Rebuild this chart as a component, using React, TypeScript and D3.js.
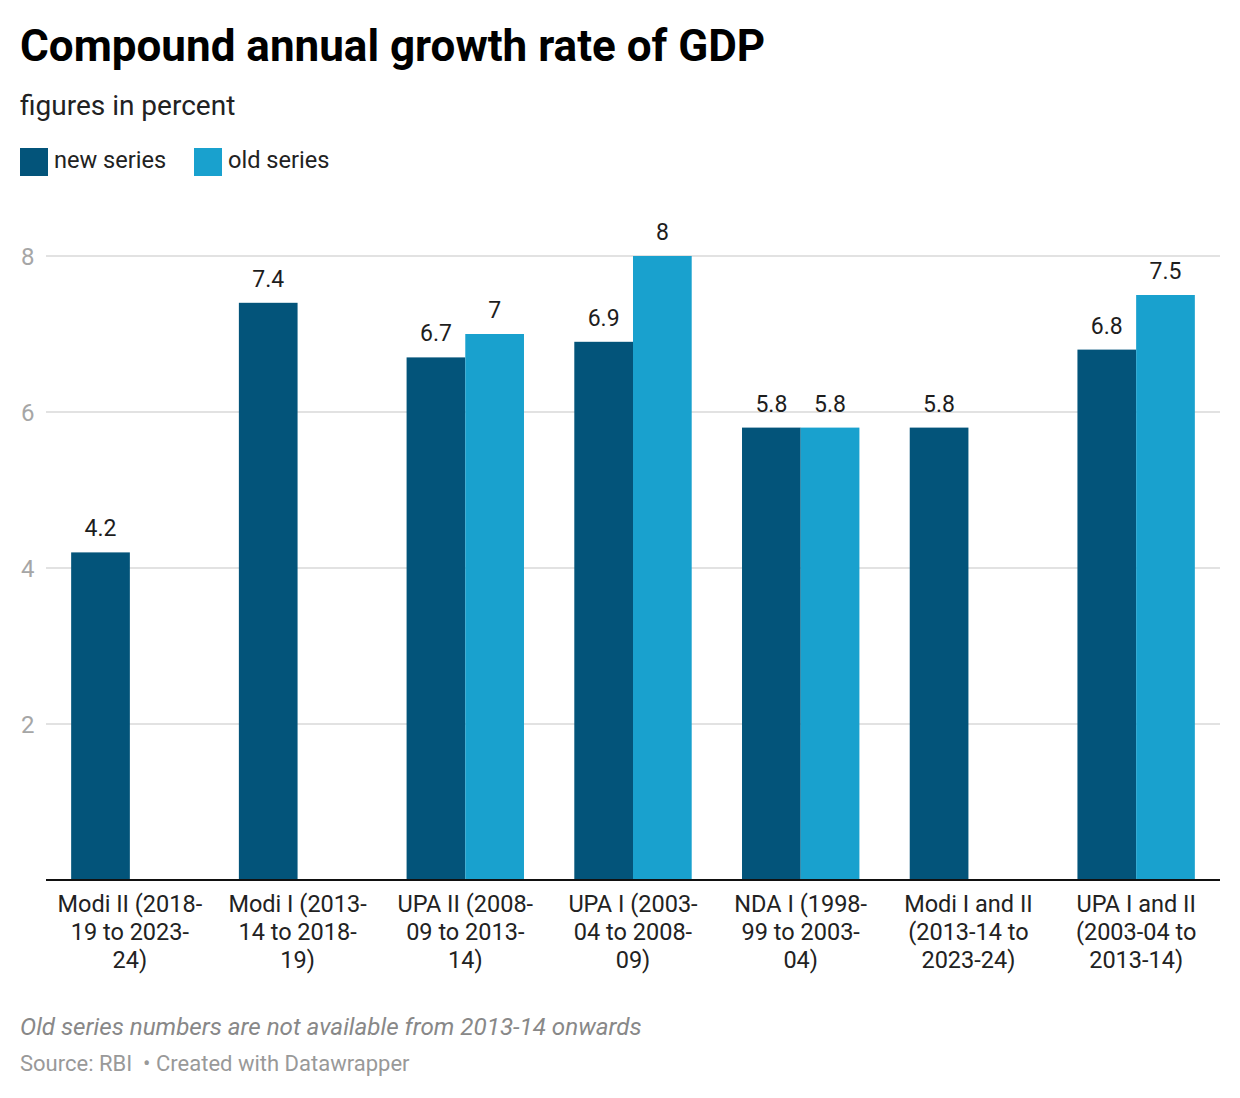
import { useEffect, useRef } from 'react'
import * as d3 from 'd3'

const categories = [
  'Modi II (2018-19 to 2023-24)',
  'Modi I (2013-14 to 2018-19)',
  'UPA II (2008-09 to 2013-14)',
  'UPA I (2003-04 to 2008-09)',
  'NDA I (1998-99 to 2003-04)',
  'Modi I and II (2013-14 to 2023-24)',
  'UPA I and II (2003-04 to 2013-14)',
]
// wrapped x-axis labels as Datawrapper breaks them
const categoryLines = [
  ['Modi II (2018-', '19 to 2023-', '24)'],
  ['Modi I (2013-', '14 to 2018-', '19)'],
  ['UPA II (2008-', '09 to 2013-', '14)'],
  ['UPA I (2003-', '04 to 2008-', '09)'],
  ['NDA I (1998-', '99 to 2003-', '04)'],
  ['Modi I and II', '(2013-14 to', '2023-24)'],
  ['UPA I and II', '(2003-04 to', '2013-14)'],
]
const newSeries: (number | null)[] = [4.2, 7.4, 6.7, 6.9, 5.8, 5.8, 6.8]
const oldSeries: (number | null)[] = [null, null, 7, 8, 5.8, null, 7.5]
const seriesNames = ['new series', 'old series']
const yTicks = [2, 4, 6, 8]

const colors = ['#03547a', '#19a1ce']
const font = 'Roboto, "Noto Sans", sans-serif'

export default function App() {
  const ref = useRef<SVGSVGElement>(null)

  useEffect(() => {
    if (!ref.current) return
    const svg = d3.select(ref.current)
    svg.selectAll('*').remove()

    const W = 1240
    const left = 46
    const right = 1220
    const bottom = 880

    svg
      .append('rect')
      .attr('width', W)
      .attr('height', 1098)
      .attr('fill', '#fff')

    // Title block
    svg
      .append('text')
      .attr('x', 20)
      .attr('y', 61)
      .attr('font-size', 44)
      .attr('font-weight', 700)
      .attr('fill', '#000')
      .text('Compound annual growth rate of GDP')

    svg
      .append('text')
      .attr('x', 20)
      .attr('y', 115)
      .attr('font-size', 28)
      .attr('fill', '#222')
      .text('figures in percent')

    // Legend
    const legend = svg.append('g')
    const legendX = [20, 194]
    seriesNames.forEach((name, i) => {
      legend
        .append('rect')
        .attr('x', legendX[i])
        .attr('y', 148)
        .attr('width', 28)
        .attr('height', 28)
        .attr('fill', colors[i])
      legend
        .append('text')
        .attr('x', legendX[i] + 34)
        .attr('y', 168)
        .attr('font-size', 23.6)
        .attr('fill', '#222')
        .text(name)
    })

    // Scales
    const y = d3.scaleLinear().domain([0, 8]).range([bottom, 256])

    const x0 = d3
      .scaleBand()
      .domain(categories)
      .range([left, right])
      .paddingInner(0.3)
      .paddingOuter(0.15)

    const x1 = d3
      .scaleBand()
      .domain(['new', 'old'])
      .range([0, x0.bandwidth()])

    // Grid lines + y tick labels
    const grid = svg.append('g')
    grid
      .selectAll('line')
      .data(yTicks)
      .enter()
      .append('line')
      .attr('x1', left)
      .attr('x2', right)
      .attr('y1', (d) => y(d))
      .attr('y2', (d) => y(d))
      .attr('stroke', '#e2e2e2')
      .attr('stroke-width', 2)

    grid
      .selectAll('text')
      .data(yTicks)
      .enter()
      .append('text')
      .attr('x', 21)
      .attr('y', (d) => y(d) + 9)
      .attr('font-size', 24)
      .attr('fill', '#a6a6a6')
      .text((d) => d)

    // Bars
    const rows = categories.map((c, i) => ({
      cat: c,
      values: [
        { key: 'new', value: newSeries[i], color: colors[0] },
        { key: 'old', value: oldSeries[i], color: colors[1] },
      ].filter((v) => v.value !== null) as { key: string; value: number; color: string }[],
    }))

    const groups = svg
      .selectAll('.group')
      .data(rows)
      .enter()
      .append('g')
      .attr('class', 'group')
      .attr('transform', (d) => `translate(${x0(d.cat)},0)`)

    groups
      .selectAll('rect')
      .data((d) => d.values)
      .enter()
      .append('rect')
      .attr('x', (d) => x1(d.key) || 0)
      .attr('width', x1.bandwidth())
      .attr('y', (d) => y(d.value))
      .attr('height', (d) => bottom - y(d.value))
      .attr('fill', (d) => d.color)

    groups
      .selectAll('.label')
      .data((d) => d.values)
      .enter()
      .append('text')
      .attr('class', 'label')
      .attr('x', (d) => (x1(d.key) || 0) + x1.bandwidth() / 2)
      .attr('y', (d) => y(d.value) - 16)
      .attr('text-anchor', 'middle')
      .attr('font-size', 23)
      .attr('fill', '#1d1d1d')
      .text((d) => d.value)

    // Baseline
    svg
      .append('line')
      .attr('x1', left)
      .attr('x2', right)
      .attr('y1', bottom)
      .attr('y2', bottom)
      .attr('stroke', '#111')
      .attr('stroke-width', 2)

    // X labels
    const xl = svg.append('g')
    categories.forEach((c, i) => {
      const cx = (x0(c) || 0) + x0.bandwidth() / 2
      const t = xl
        .append('text')
        .attr('text-anchor', 'middle')
        .attr('font-size', 23.5)
        .attr('fill', '#222')
      categoryLines[i].forEach((line, j) => {
        t.append('tspan')
          .attr('x', cx)
          .attr('y', 912 + j * 28)
          .text(line)
      })
    })

    // Footer
    svg
      .append('text')
      .attr('x', 20)
      .attr('y', 1035)
      .attr('font-size', 24.2)
      .attr('font-style', 'italic')
      .attr('fill', '#888')
      .text('Old series numbers are not available from 2013-14 onwards')

    svg
      .append('text')
      .attr('x', 20)
      .attr('y', 1071)
      .attr('font-size', 22)
      .attr('fill', '#999')
      .attr('xml:space', 'preserve')
      .style('white-space', 'pre')
      .text('Source: RBI  \u2022 Created with Datawrapper')
  }, [])

  return (
    <svg
      ref={ref}
      width={1240}
      height={1098}
      style={{ position: 'absolute', left: 0, top: 0, fontFamily: font }}
    />
  )
}
